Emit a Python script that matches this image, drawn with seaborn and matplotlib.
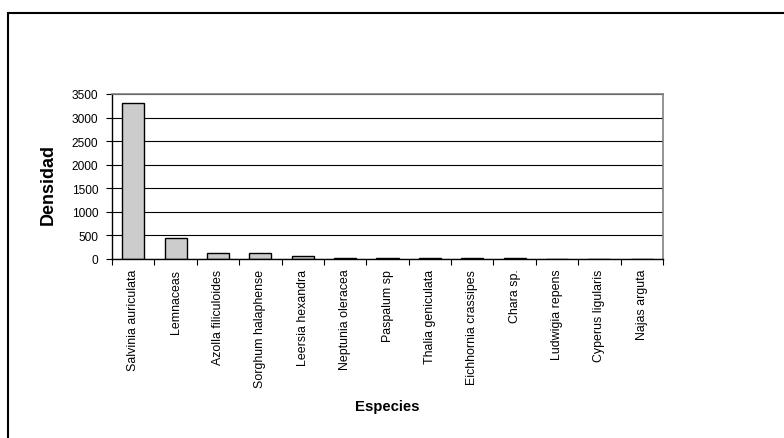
import matplotlib
matplotlib.use("Agg")
import matplotlib.pyplot as plt
import matplotlib.patches as mpatches
import seaborn as sns
import pandas as pd
import numpy as np

especies = [
    "Salvinia auriculata", "Lemnaceas", "Azolla filiculoides",
    "Sorghum halaphense", "Leersia hexandra", "Neptunia oleracea",
    "Paspalum sp", "Thalia geniculata", "Eichhornia crassipes",
    "Chara sp.", "Ludwigia repens", "Cyperus ligularis", "Najas arguta",
]
densidad = [3310, 450, 125, 125, 70, 20, 20, 20, 20, 20, 0, 0, 0]
y_ticks = [0, 500, 1000, 1500, 2000, 2500, 3000, 3500]

sns.set_theme(style="white")
plt.rcParams["font.family"] = ["Liberation Sans", "DejaVu Sans"]
plt.rcParams["text.color"] = "black"
plt.rcParams["axes.labelcolor"] = "black"
plt.rcParams["xtick.color"] = "black"
plt.rcParams["ytick.color"] = "black"

df = pd.DataFrame({"Especies": especies, "Densidad": densidad})

fig = plt.figure(figsize=(7.84, 4.39), dpi=100)
ax = fig.add_axes([112 / 784, 1 - 260 / 439, 551 / 784, 165 / 439])

sns.barplot(data=df, x="Especies", y="Densidad", order=especies,
            color="#cccccc", edgecolor="black", linewidth=1.0,
            width=0.52, saturation=1, ax=ax)

ax.set_xlim(-0.5, len(especies) - 0.5)
ax.set_ylim(0, 3500)
ax.set_yticks(y_ticks)
ax.set_yticklabels([str(v) for v in y_ticks], fontsize=8.6)
ax.yaxis.grid(True, color="black", linewidth=0.8)
ax.set_axisbelow(True)

# category labels, tick marks between categories
ax.set_xticks(range(len(especies)))
ax.set_xticklabels(especies, rotation=90, fontsize=8.9, va="top")
ax.set_xticks(np.arange(-0.5, len(especies), 1.0), minor=True)
ax.tick_params(axis="x", which="major", length=0, pad=7)
ax.tick_params(axis="x", which="minor", length=4, width=0.8,
               color="black", direction="out", bottom=True)
ax.tick_params(axis="y", length=4, width=0.8, color="black",
               direction="out", left=True, pad=6)

for side in ("left", "bottom"):
    ax.spines[side].set_color("black")
    ax.spines[side].set_linewidth(1.0)
for side in ("top", "right"):
    ax.spines[side].set_visible(True)
    ax.spines[side].set_color("#808080")
    ax.spines[side].set_linewidth(1.2)

ax.set_ylabel("Densidad", fontsize=13, fontweight="bold", va="center")
ax.yaxis.set_label_coords((48 - 112) / 551, (260 - 185) / 165)
ax.set_xlabel("Especies", fontsize=10.7, fontweight="bold", va="center")
ax.xaxis.set_label_coords(0.5, (260 - 407) / 165)

# chart-area border
frame = mpatches.Rectangle((8 / 784, -0.1), 1.2, 1 - 14 / 439 + 0.1,
                           transform=fig.transFigure, fill=False,
                           edgecolor="black", linewidth=1.5, clip_on=False)
fig.patches.append(frame)

fig.savefig("out.png", dpi=100, facecolor="white")
